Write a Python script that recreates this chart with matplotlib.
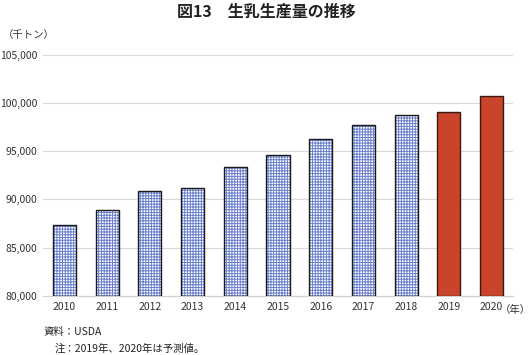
import matplotlib
matplotlib.use("Agg")
import matplotlib.pyplot as plt
import numpy as np

plt.rcParams['font.family'] = ['Noto Sans CJK JP', 'DejaVu Sans']
plt.rcParams['hatch.linewidth'] = 0.7

# data (thousand tons), 2019-2020 are forecasts
years = ['2010', '2011', '2012', '2013', '2014', '2015', '2016',
         '2017', '2018', '2019', '2020']
production = [87400, 88950, 90900, 91200, 93350, 94550, 96300,
              97750, 98700, 99050, 100700]
forecast = [False] * 9 + [True] * 2

yticks = [80000, 85000, 90000, 95000, 100000, 105000]

fig = plt.figure(figsize=(5.32, 3.55), dpi=100)
ax = fig.add_axes([43 / 532, 1 - 296 / 355, 470 / 532, (296 - 54.5) / 355])

x = np.arange(len(years))
hist = [i for i in x if not forecast[i]]
pred = [i for i in x if forecast[i]]
width = 0.54

# hatched grid bars: draw hatch first in blue, then black outline on top
ax.bar(hist, [production[i] - 80000 for i in hist], width, bottom=80000,
       color='white', edgecolor='#6a7fcc', linewidth=0, hatch='+' * 6, zorder=2)
ax.bar(hist, [production[i] - 80000 for i in hist], width, bottom=80000,
       fill=False, edgecolor='#1a1a1a', linewidth=1.0, zorder=3)
ax.bar(pred, [production[i] - 80000 for i in pred], width, bottom=80000,
       color='#c9442a', edgecolor='#3a1a10', linewidth=1.0, zorder=3)

ax.set_ylim(80000, 105000)
ax.set_xlim(-0.5, 10.5)
ax.set_yticks(yticks)
ax.set_yticklabels([f'{v:,}' for v in yticks], fontsize=7.5, color='#333333')
ax.set_xticks(x)
ax.set_xticklabels(years, fontsize=7.5, color='#333333')
ax.tick_params(length=0, pad=4)
ax.yaxis.grid(True, color='#d9d9d9', linewidth=0.8, zorder=0)
ax.set_axisbelow(True)
for s in ['top', 'right', 'left']:
    ax.spines[s].set_visible(False)
ax.spines['bottom'].set_color('#d0d0d0')
ax.spines['bottom'].set_linewidth(0.8)

fig.text(0.5, 1 - 12 / 355, '図13　生乳生産量の推移', ha='center', va='center',
         fontsize=11.5, fontweight='bold', color='#222222')
fig.text(3 / 532, 1 - 35 / 355, '（千トン）', ha='left', va='center',
         fontsize=7.5, color='#333333')
fig.text(531 / 532, 1 - 310 / 355, '（年）', ha='right', va='center',
         fontsize=7.5, color='#333333')
fig.text(44 / 532, 1 - 332 / 355, '資料：USDA', ha='left', va='center',
         fontsize=7.5, color='#222222')
fig.text(55 / 532, 1 - 349 / 355, '注：2019年、2020年は予測値。', ha='left',
         va='center', fontsize=7.5, color='#222222')

fig.savefig('out.png', dpi=100, facecolor='white')
